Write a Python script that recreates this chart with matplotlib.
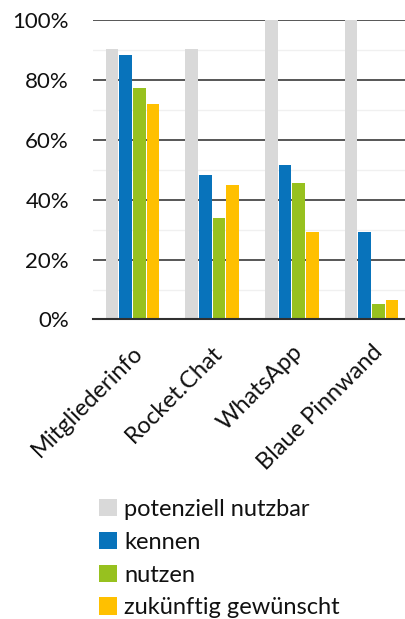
import numpy as np
import matplotlib.pyplot as plt
from matplotlib.ticker import MultipleLocator, PercentFormatter

plt.rcParams['font.family'] = ['Lato', 'DejaVu Sans']

# Data (percent)
categories = ['Mitgliederinfo', 'Rocket.Chat', 'WhatsApp', 'Blaue Pinnwand']
series_names = ['potenziell nutzbar', 'kennen', 'nutzen', 'zukünftig gewünscht']
potenziell = [90.4, 90.4, 100.0, 100.0]
kennen = [88.5, 48.3, 51.6, 29.2]
nutzen = [77.5, 33.9, 45.6, 5.2]
gewuenscht = [72.0, 44.9, 29.2, 6.6]
colors = ['#d9d9d9', '#0873bb', '#97c11f', '#ffc000']

fig = plt.figure(figsize=(4.06, 6.19), dpi=100)
ax = fig.add_axes([0.228, 0.484, 0.785, 0.483])

x = np.arange(len(categories))
step = 0.1715
width = 0.16
for k, (vals, name, col) in enumerate(zip([potenziell, kennen, nutzen, gewuenscht], series_names, colors)):
    ax.bar(x + (k - 1.5) * step, vals, width=width, color=col, label=name, zorder=3)

ax.set_ylim(0, 100)
ax.set_xlim(-0.5, 3.5)
ax.yaxis.set_major_locator(MultipleLocator(20))
ax.yaxis.set_minor_locator(MultipleLocator(10))
ax.yaxis.set_major_formatter(PercentFormatter(decimals=0))
ax.grid(axis='y', which='major', color='#3a3a3a', linewidth=1.2, zorder=1)
ax.grid(axis='y', which='minor', color='#f0f0f0', linewidth=1.0, zorder=0)
for s in ['top', 'right', 'left']:
    ax.spines[s].set_visible(False)
ax.spines['bottom'].set_color('#303030')
ax.spines['bottom'].set_linewidth(1.5)
ax.spines['bottom'].set_zorder(4)

ax.tick_params(axis='y', which='both', length=0, pad=17, labelsize=16, labelcolor='#111111')
ax.tick_params(axis='x', length=0, pad=16)
ax.set_xticks(x)
ax.set_xticklabels(categories, rotation=45, ha='right', va='top',
                   rotation_mode='anchor', fontsize=17, color='#111111')

leg = fig.legend(loc='upper left', bbox_to_anchor=(0.215, 0.213), frameon=False,
                 fontsize=17, handlelength=0.75, handleheight=0.75, handletextpad=0.3,
                 labelspacing=0.5, borderpad=0, labelcolor='#111111')

fig.savefig('out.png', dpi=100)
